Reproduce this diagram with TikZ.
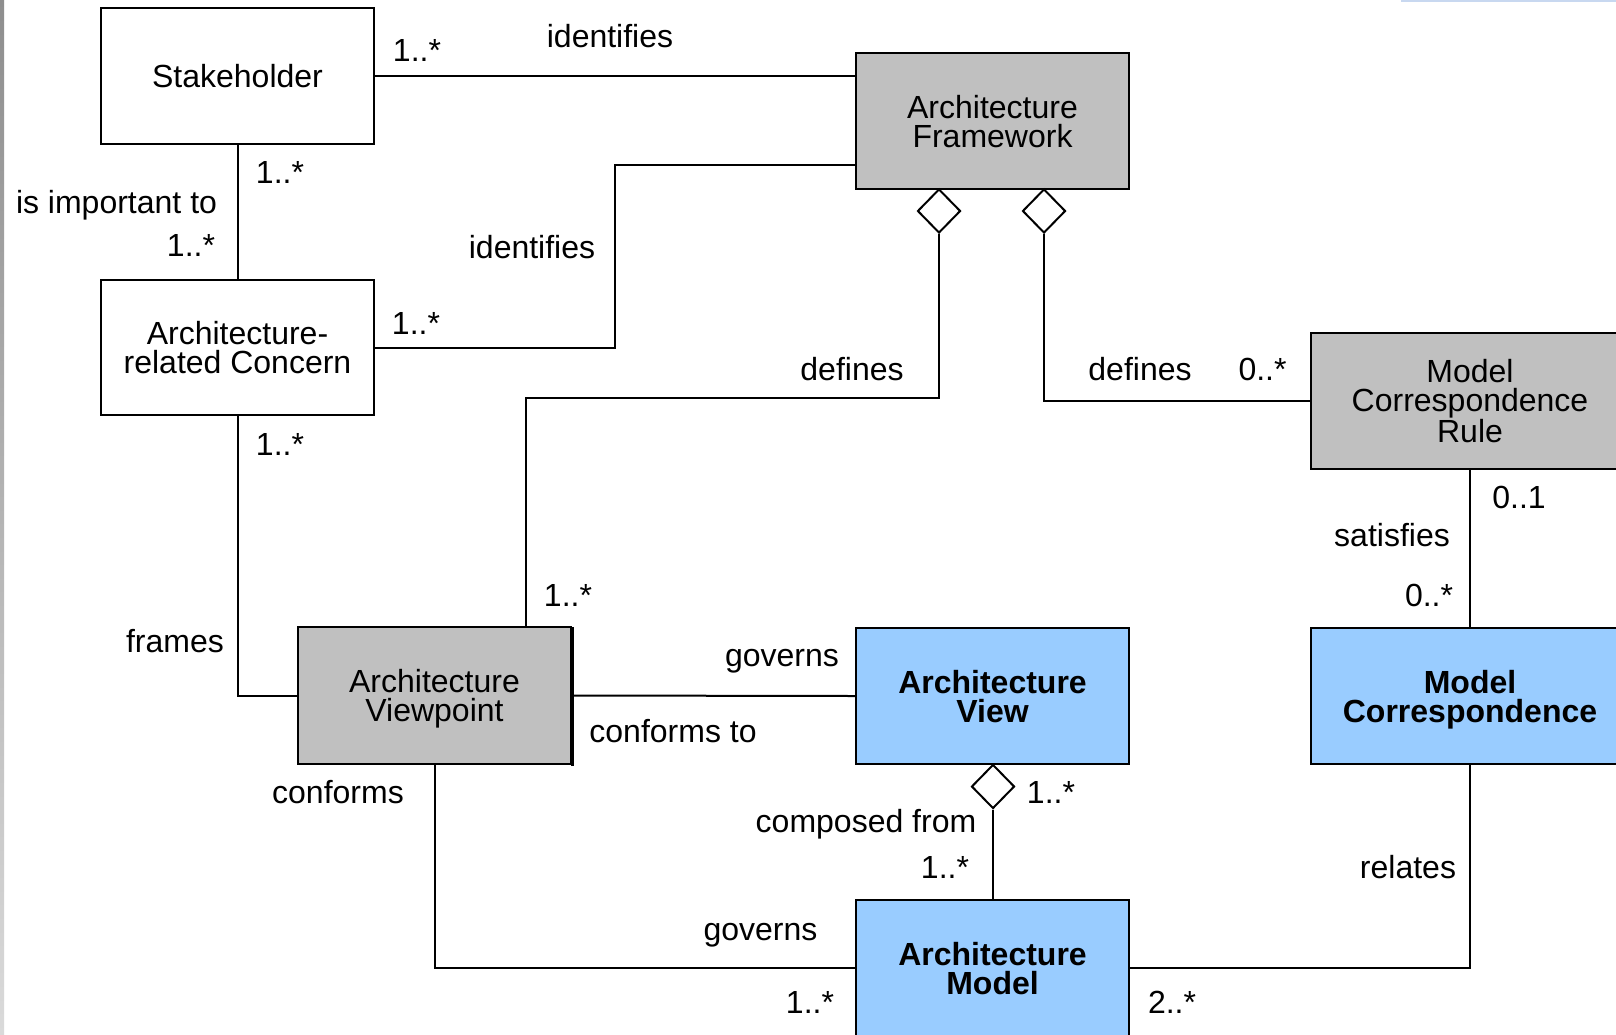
\documentclass[tikz,border=0pt]{standalone}
\usepackage{fontspec}
\setmainfont{Liberation Sans}
\usetikzlibrary{shapes.geometric}
\definecolor{boxgray}{HTML}{C0C0C0}
\definecolor{boxblue}{HTML}{99CCFF}
\definecolor{stripdark}{HTML}{8E8E8E}
\definecolor{striplight}{HTML}{DADADA}
\definecolor{topline}{HTML}{C8D8F0}
\tikzset{
  every node/.style={font=\fontsize{32}{29}\selectfont},
  umlbox/.style={draw, line width=2pt, inner sep=0pt, align=center, text depth=0pt,
    minimum width=273pt, minimum height=136pt},
  graybox/.style={umlbox, fill=boxgray},
  bluebox/.style={umlbox, fill=boxblue, font=\fontsize{32}{29}\selectfont\bfseries},
  dia/.style={diamond, draw, fill=white, line width=2pt, inner sep=0pt,
    minimum width=43pt, minimum height=44pt},
  conn/.style={line width=2pt},
  lbl/.style={inner sep=0pt, text height=23pt, text depth=0pt}
}
\begin{document}
\begin{tikzpicture}[x=1pt,y=-1pt]
\useasboundingbox (0,0) rectangle (1616,1034);
\fill[white] (0,0) rectangle (1616,1034);
\shade[top color=stripdark, bottom color=striplight] (0,0) rectangle (4,1034);
\fill[topline] (1401,0) rectangle (1616,1.5);

% boxes
\node[umlbox] (sh) at (237.5,76) {Stakeholder};
\node[graybox] (af) at (992.5,121) {Architecture\\Framework};
\node[umlbox, minimum height=135pt] (rc) at (237.5,347.5) {Architecture-\\related Concern};
\node[graybox, minimum width=318pt] (mcr) at (1470,401) {Model\\Correspondence\\Rule};
\node[graybox, minimum height=137pt] (vp) at (434.5,695.5) {Architecture\\Viewpoint};
\node[bluebox] (av) at (992.5,696) {Architecture\\View};
\node[bluebox, minimum width=318pt] (mc) at (1470,696) {Model\\Correspondence};
\node[bluebox] (am) at (992.5,968) {Architecture\\Model};
\draw[line width=3pt] (vp.north east) ++(0.5,1) -- ([xshift=0.5pt,yshift=-1pt]vp.south east);

% diamonds
\node[dia] (d1) at (939,211) {};
\node[dia] (d2) at (1044,211) {};
\node[dia] (d3) at (993,786.5) {};

% connectors
\draw[conn] (sh.east) -- (sh.east -| af.west);
\draw[conn] (rc.east) -| (615,165) -- (af.west |- 0,165);
\draw[conn] (sh.south) -- (rc.north);
\draw[conn] (rc.south) |- (vp.west);
\draw[conn] (d1.south) |- (526,398) -- (vp.north -| 526,0);
\draw[conn] (d2.south) |- (mcr.west);
\draw[conn] (mcr.south) -- (mc.north);
\draw[conn] (vp.east) -- (av.west);
\draw[conn] (vp.south) |- (am.west);
\draw[conn] (d3.south) -- (am.north -| d3.south);
\draw[conn] (mc.south) |- (am.east);

% labels
\node[lbl] (l1) at (417,49.5) {1..*};
\node[lbl] (l2) at (610,36) {identifies};
\node[lbl] (l3) at (280,172) {1..*};
\node[lbl] (l4) at (116.5,202) {is important to};
\node[lbl] (l5) at (191,245) {1..*};
\node[lbl] (l6) at (532,247) {identifies};
\node[lbl] (l7) at (416,323) {1..*};
\node[lbl] (l8) at (852,369) {defines};
\node[lbl] (l9) at (1140,369) {defines};
\node[lbl] (l10) at (1262.5,369) {0..*};
\node[lbl] (l11) at (280,444) {1..*};
\node[lbl] (l12) at (1519,497) {0..1};
\node[lbl] (l13) at (1392,535) {satisfies};
\node[lbl] (l14) at (568,595) {1..*};
\node[lbl] (l15) at (1429,595) {0..*};
\node[lbl] (l16) at (175,641) {frames};
\node[lbl] (l17) at (782,655) {governs};
\node[lbl] (l18) at (673,731) {conforms to};
\node[lbl] (l19) at (338,791.5) {conforms};
\node[lbl] (l20) at (1051,791.5) {1..*};
\node[lbl] (l21) at (866,821) {composed from};
\node[lbl] (l22) at (945,867) {1..*};
\node[lbl] (l23) at (1408,867) {relates};
\node[lbl] (l24) at (760.5,928.5) {governs};
\node[lbl] (l25) at (810,1002) {1..*};
\node[lbl] (l26) at (1172,1002) {2..*};
\end{tikzpicture}
\end{document}
